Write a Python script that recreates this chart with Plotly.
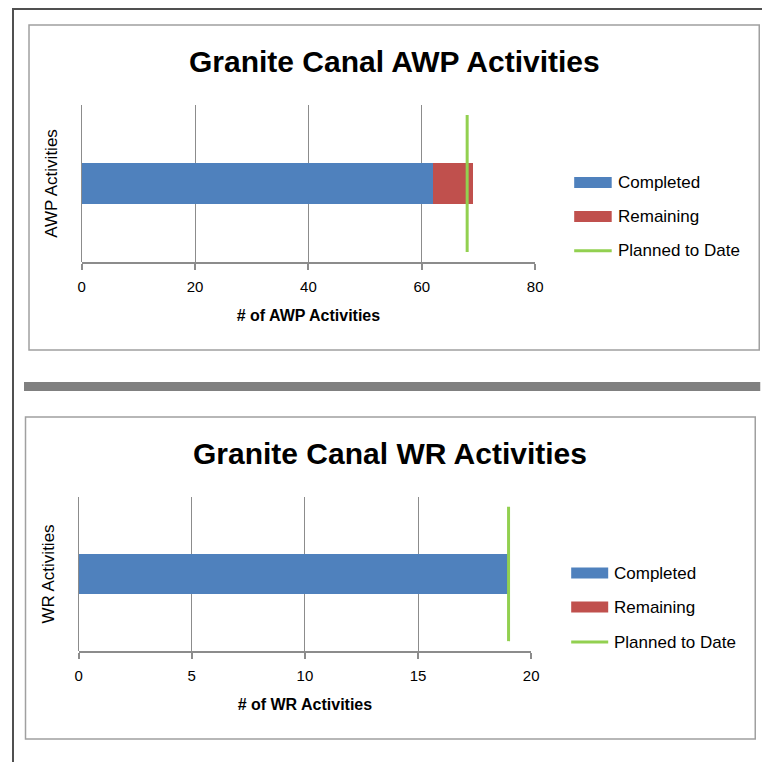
import plotly.graph_objects as go

# ---------------- data ----------------
categories = ["AWP Activities", "WR Activities"]
chart_titles = ["Granite Canal AWP Activities", "Granite Canal WR Activities"]
x_titles = ["# of AWP Activities", "# of WR Activities"]
completed = [62, 19]
remaining = [7, 0]
planned = [68, 19]
x_max = [80, 20]
x_dtick = [20, 5]
series_names = ["Completed", "Remaining", "Planned to Date"]

# ---------------- style ----------------
W = 766
H = 754
XOFF, XSC, YOFF = 12.0, 0.984, 8.0   # page placement compensation
BLUE = "#4F81BD"
RED = "#C0504D"
GREEN = "#92D050"
GRID = "#8C8C8C"
FONT = "Liberation Sans, Arial, sans-serif"
PLAN_SPAN = [0.064, 0.936]  # vertical extent of planned line (secondary axis units)

panels = [
    dict(plot=(81.7, 535.0, 105.0, 262.0), box=(29, 25, 759, 350),
         title=(394, 61), leg_x=(574, 611.5, 616), leg_y=(182.5, 216.5, 250.7)),
    dict(plot=(78.6, 531.0, 497.0, 651.0), box=(25.5, 417, 755, 739),
         title=(390, 453), leg_x=(571, 608, 612), leg_y=(573, 607, 642)),
]


def px(x):
    return ((x - XOFF) / XSC) / W


def py(y):
    return 1 - (y - YOFF) / H


fig = go.Figure()
shapes = []
annotations = []

# outer frame + separator
shapes.append(dict(type="line", xref="paper", yref="paper", x0=px(13), x1=px(13), y0=py(7), y1=py(790),
                   line=dict(color="#505050", width=2)))
shapes.append(dict(type="line", xref="paper", yref="paper", x0=px(12), x1=px(790), y0=py(9), y1=py(9),
                   line=dict(color="#505050", width=2)))
shapes.append(dict(type="rect", xref="paper", yref="paper", x0=px(24), x1=px(760), y0=py(382), y1=py(391),
                   fillcolor="#808080", line=dict(width=0), layer="below"))

for i, p in enumerate(panels):
    xa = "x" if i == 0 else "x2"
    ya = "y" if i == 0 else "y3"
    ya2 = "y2" if i == 0 else "y4"
    cat = [categories[i]]
    fig.add_trace(go.Bar(x=[completed[i]], y=cat, orientation="h", name=series_names[0],
                         marker=dict(color=BLUE, line=dict(width=0)), width=0.255,
                         xaxis=xa, yaxis=ya, showlegend=False))
    fig.add_trace(go.Bar(x=[remaining[i]], y=cat, orientation="h", name=series_names[1],
                         marker=dict(color=RED, line=dict(width=0)), width=0.255,
                         xaxis=xa, yaxis=ya, showlegend=False))
    fig.add_trace(go.Scatter(x=[planned[i], planned[i]], y=PLAN_SPAN, mode="lines", name=series_names[2],
                             line=dict(color=GREEN, width=3), xaxis=xa, yaxis=ya2, showlegend=False))

    x0, x1, y0, y1 = p["plot"]
    xkey = "xaxis" if i == 0 else "xaxis2"
    ykey = "yaxis" if i == 0 else "yaxis3"
    y2key = "yaxis2" if i == 0 else "yaxis4"
    fig.update_layout(**{
        xkey: dict(domain=[px(x0), px(x1)], anchor=ya, range=[0, x_max[i]], dtick=x_dtick[i], tick0=0,
                   showgrid=True, gridcolor=GRID, gridwidth=1,
                   zeroline=True, zerolinecolor=GRID, zerolinewidth=1,
                   showline=True, linecolor=GRID, linewidth=2,
                   ticks="outside", ticklen=6, tickwidth=1.5, tickcolor=GRID,
                   ticklabelstandoff=4,
                   tickfont=dict(family=FONT, size=15, color="#000000"),
                   title=dict(text="<b>" + x_titles[i] + "</b>", standoff=16,
                              font=dict(family=FONT, size=16, color="#000000")),
                   fixedrange=True),
        ykey: dict(domain=[py(y1), py(y0)], anchor=xa, type="category", range=[-0.5, 0.5],
                   showgrid=False, zeroline=False, showline=False, showticklabels=False, ticks="",
                   title=dict(text=categories[i], standoff=18,
                              font=dict(family=FONT, size=17, color="#000000")),
                   fixedrange=True),
        y2key: dict(domain=[py(y1), py(y0)], anchor=xa, overlaying=ya, range=[0, 1], visible=False,
                    fixedrange=True),
    })

    # panel box
    bx0, by0, bx1, by1 = p["box"]
    shapes.append(dict(type="rect", xref="paper", yref="paper", x0=px(bx0), x1=px(bx1), y0=py(by0), y1=py(by1),
                       line=dict(color="#A0A0A0", width=1.5), fillcolor="rgba(0,0,0,0)", layer="below"))
    # title
    tx, ty = p["title"]
    annotations.append(dict(xref="paper", yref="paper", x=px(tx), y=py(ty), text="<b>" + chart_titles[i] + "</b>",
                            showarrow=False, xanchor="center", yanchor="middle",
                            font=dict(family=FONT, size=30, color="#000000")))
    # custom legend
    lx0, lx1, ltx = p["leg_x"]
    cols = [BLUE, RED]
    for k in range(2):
        yc = p["leg_y"][k]
        shapes.append(dict(type="rect", xref="paper", yref="paper", x0=px(lx0), x1=px(lx1),
                           y0=py(yc - 5.5), y1=py(yc + 5.5), fillcolor=cols[k], line=dict(width=0)))
    yc = p["leg_y"][2]
    shapes.append(dict(type="line", xref="paper", yref="paper", x0=px(lx0), x1=px(lx1), y0=py(yc), y1=py(yc),
                       line=dict(color=GREEN, width=3)))
    for k in range(3):
        annotations.append(dict(xref="paper", yref="paper", x=px(ltx), y=py(p["leg_y"][k]), text=series_names[k],
                                showarrow=False, xanchor="left", yanchor="middle",
                                font=dict(family=FONT, size=17, color="#000000")))

fig.update_layout(width=W, height=H, margin=dict(l=0, r=0, t=0, b=0),
                  paper_bgcolor="#FFFFFF", plot_bgcolor="rgba(0,0,0,0)",
                  barmode="stack", showlegend=False,
                  shapes=shapes, annotations=annotations)

fig.write_html("out.html")
